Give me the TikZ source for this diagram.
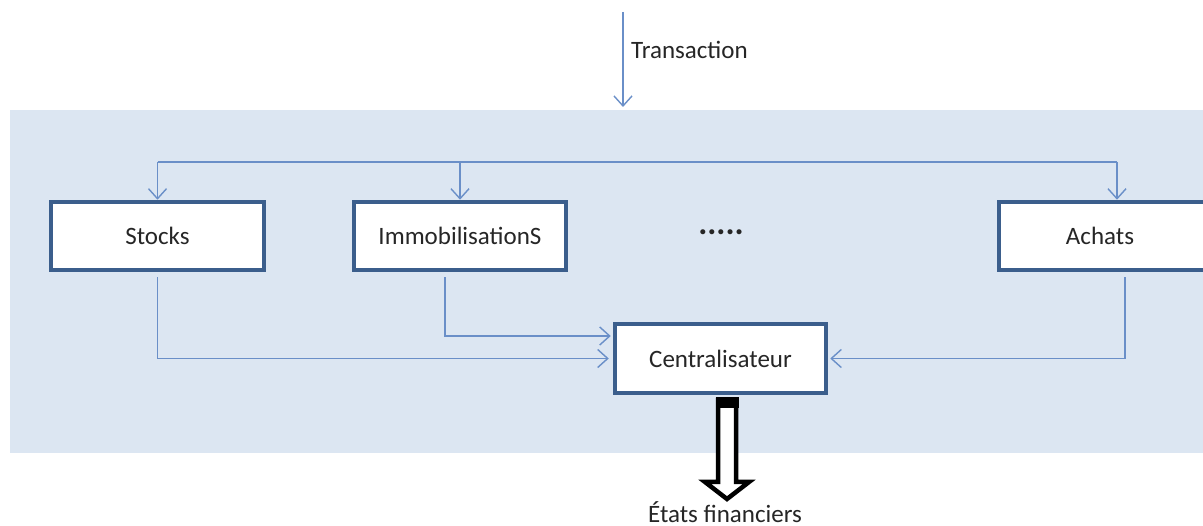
\documentclass[tikz,border=0pt]{standalone}
\usepackage{fontspec}
\setmainfont{Carlito}
\usetikzlibrary{arrows.meta}
\definecolor{panel}{HTML}{DCE6F2}
\definecolor{boxline}{HTML}{3B5E8C}
\definecolor{conn}{HTML}{6A8FC8}
\tikzset{
  box/.style={draw=boxline, line width=4.5pt, fill=white, inner sep=0pt,
    font=\fontsize{25}{28}\selectfont, text=black!85},
  link/.style={draw=conn, line width=1.6pt},
  arr/.style={link, -{Straight Barb[length=10pt,width=18pt,line width=1.4pt]}},
  lbl/.style={font=\fontsize{25}{28}\selectfont, text=black!85, inner sep=0pt}
}
\begin{document}
\begin{tikzpicture}[x=1pt,y=-1pt]
\useasboundingbox (0,0) rectangle (1203,526);
\fill[panel] (10,110) rectangle (1203,453);

% boxes
\node[box, minimum width=213pt, minimum height=68pt] (stocks) at (157.5,236) {Stocks};
\node[box, minimum width=212pt, minimum height=68pt] (immo) at (460,236) {ImmobilisationS};
\node[box, minimum width=210pt, minimum height=68pt] (achats) at (1104,236) {\hspace*{-8pt}Achats};
\node[box, minimum width=211pt, minimum height=69pt] (centr) at (720.5,358.5) {Centralisateur};
\node[lbl, anchor=base, font=\fontsize{34}{34}\bfseries\selectfont, text=black!85] (dots) at (721,235) {.....};

% transaction input
\coordinate (tin) at (623,12);
\coordinate (tout) at (623,107);
\draw[arr] (tin) -- (tout);
\node[lbl, anchor=west] (trans) at (631,50) {Transaction};

% distribution line
\coordinate (dl) at (157.5,162);
\coordinate (dr) at (1117,162);
\draw[link] (dl) -- (dr);
\draw[arr] (dl) -- (stocks.north);
\draw[arr] (immo.north |- dl) -- (immo.north);
\draw[arr] (dr) -- (dr |- achats.north);

% to centralisateur
\draw[arr, shorten <=5pt, shorten >=4pt] (stocks.south) |- (centr.west);
\draw[arr, shorten <=5pt, shorten >=2pt] ([xshift=-15pt]immo.south) |- ([yshift=22.5pt]centr.west);
\draw[arr, shorten <=5pt, shorten >=2pt] ([xshift=21pt]achats.south) |- (centr.east);

% hollow output arrow
\draw[black, line width=4.5pt, fill=white, line join=miter]
  (718,400) -- (736,400) -- (736,482) -- (749,482) -- (727,499) -- (705,482) -- (718,482) -- cycle;
\fill[black] (715.5,397) rectangle (738.5,408);
\node[lbl, anchor=base, font=\fontsize{25}{26}\selectfont] (etats) at (725,522) {États financiers};
\end{tikzpicture}
\end{document}
